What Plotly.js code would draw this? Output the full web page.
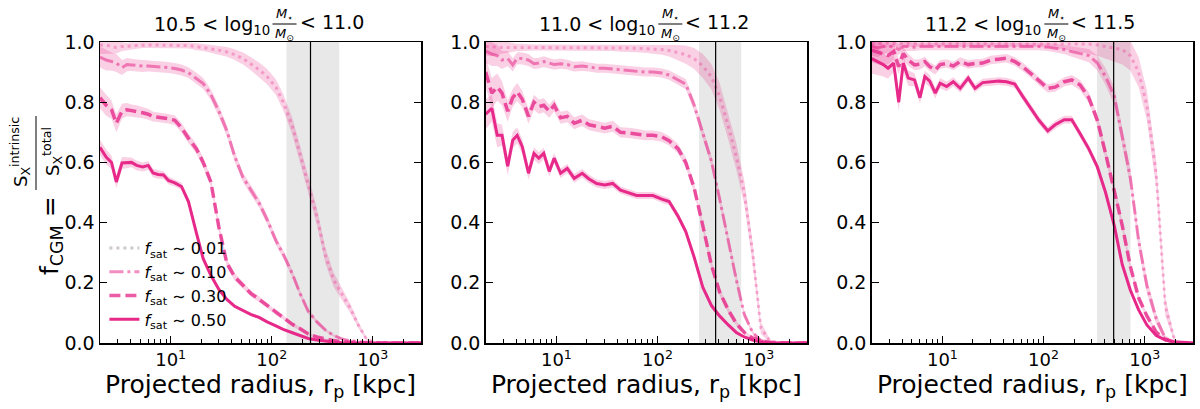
<!DOCTYPE html>
<html>
<head>
<meta charset="utf-8">
<script src="https://cdn.plot.ly/plotly-3.0.1.min.js"></script>
<style>html,body{margin:0;padding:0;background:#fff}</style>
</head>
<body>
<div id="plot" style="width:1200px;height:409px"></div>
<script>
// projected radius grid [kpc], shared by all panels
const radius = [2,2.3,2.6,2.9,3.3,3.7,4.1,4.6,5.3,6, 6.7,7.5,8.5,9.5,11,12.8,15,18,21,25,
  30,36,43,52,62,75,90,110,130,160, 190,230,280,340,410,500,600,720,870,1050, 1300,1600,2000,3000];

// panel 1: 10.5 < log M* < 11.0
const p1_001 = [0.99,0.99,0.985,0.982,0.985,0.985,0.987,0.988,0.99,0.99, 0.99,0.99,0.99,0.99,0.99,0.989,0.988,0.985,0.982,0.978,
  0.973,0.967,0.958,0.945,0.928,0.908,0.885,0.85,0.80,0.72, 0.63,0.53,0.42,0.29,0.21,0.16,0.115,0.06,0.012,0.002, 0,0,0,0];
const p1_010 = [0.95,0.94,0.935,0.93,0.915,0.925,0.924,0.922,0.92,0.92, 0.919,0.918,0.917,0.915,0.912,0.907,0.898,0.88,0.862,0.825,
  0.77,0.705,0.62,0.55,0.51,0.465,0.41,0.34,0.295,0.23, 0.166,0.105,0.07,0.043,0.025,0.013,0.007,0.004,0.002,0, 0,0,0,0];
const p1_030 = [0.815,0.79,0.775,0.73,0.77,0.775,0.772,0.77,0.765,0.76, 0.752,0.75,0.748,0.745,0.74,0.715,0.68,0.645,0.60,0.535,
  0.385,0.265,0.22,0.19,0.165,0.145,0.125,0.10,0.085,0.062, 0.048,0.03,0.02,0.013,0.008,0.004,0.002,0,0,0, 0,0,0,0];
const p1_050 = [0.65,0.618,0.60,0.535,0.598,0.60,0.60,0.59,0.585,0.59, 0.565,0.56,0.558,0.54,0.532,0.52,0.47,0.365,0.28,0.225,
  0.178,0.145,0.122,0.108,0.095,0.085,0.07,0.057,0.045,0.034, 0.025,0.015,0.01,0.006,0.003,0.001,0,0,0,0, 0,0,0,0];
const e1_001 = [0.03,0.03,0.025,0.02,0.015,0.012,0.012,0.01,0.01,0.01, 0.01,0.01,0.01,0.01,0.01,0.01,0.01,0.012,0.012,0.014,
  0.015,0.016,0.018,0.02,0.022,0.024,0.025,0.026,0.027,0.028, 0.028,0.028,0.028,0.026,0.024,0.02,0.015,0.01,0.005,0.002, 0,0,0,0];
const e1_010 = [0.035,0.035,0.03,0.03,0.025,0.022,0.02,0.02,0.02,0.018, 0.018,0.018,0.018,0.018,0.018,0.018,0.018,0.018,0.018,0.018,
  0.018,0.018,0.018,0.016,0.016,0.015,0.015,0.014,0.013,0.012, 0.01,0.008,0.006,0.005,0.004,0.003,0.002,0.001,0.001,0, 0,0,0,0];
const e1_030 = [0.035,0.035,0.03,0.03,0.025,0.022,0.02,0.02,0.018,0.018, 0.016,0.016,0.016,0.016,0.016,0.016,0.016,0.016,0.016,0.015,
  0.014,0.013,0.012,0.011,0.01,0.01,0.009,0.008,0.007,0.006, 0.005,0.004,0.003,0.002,0.002,0.001,0.001,0,0,0, 0,0,0,0];
const e1_050 = [0.025,0.025,0.022,0.02,0.02,0.018,0.016,0.016,0.015,0.015, 0.014,0.014,0.013,0.013,0.012,0.012,0.012,0.011,0.01,0.009,
  0.008,0.007,0.006,0.006,0.005,0.005,0.004,0.004,0.003,0.003, 0.002,0.002,0.001,0.001,0.001,0,0,0,0,0, 0,0,0,0];

// panel 2: 11.0 < log M* < 11.2
const p2_001 = [0.985,0.983,0.982,0.982,0.982,0.982,0.982,0.982,0.982,0.982, 0.982,0.982,0.982,0.982,0.982,0.981,0.981,0.98,0.98,0.98,
  0.98,0.98,0.98,0.98,0.979,0.978,0.977,0.975,0.972,0.965, 0.958,0.945,0.92,0.885,0.82,0.72,0.62,0.50,0.30,0.05, 0.005,0,0,0];
const p2_010 = [0.97,0.96,0.955,0.94,0.945,0.924,0.946,0.945,0.94,0.928, 0.93,0.935,0.93,0.925,0.928,0.925,0.918,0.92,0.917,0.913,
  0.913,0.91,0.907,0.905,0.902,0.9,0.9,0.897,0.89,0.875, 0.86,0.79,0.70,0.605,0.48,0.34,0.21,0.095,0.035,0.008, 0.002,0,0,0];
const p2_030 = [0.9,0.83,0.85,0.83,0.77,0.815,0.834,0.81,0.753,0.80, 0.785,0.79,0.77,0.79,0.748,0.753,0.73,0.74,0.725,0.72,
  0.714,0.72,0.70,0.698,0.695,0.69,0.69,0.685,0.672,0.645, 0.60,0.515,0.39,0.26,0.17,0.11,0.065,0.035,0.017,0.008, 0.002,0,0,0];
const p2_050 = [0.76,0.78,0.69,0.69,0.587,0.674,0.69,0.652,0.564,0.63, 0.614,0.63,0.57,0.614,0.564,0.58,0.547,0.564,0.545,0.53,
  0.525,0.53,0.508,0.50,0.49,0.49,0.49,0.478,0.47,0.42, 0.37,0.285,0.185,0.125,0.09,0.06,0.035,0.02,0.01,0.003, 0,0,0,0];
const e2_001 = [0.03,0.03,0.025,0.02,0.018,0.015,0.012,0.012,0.01,0.01, 0.01,0.01,0.01,0.01,0.01,0.01,0.01,0.01,0.01,0.01,
  0.01,0.01,0.012,0.012,0.013,0.014,0.015,0.017,0.02,0.025, 0.03,0.035,0.04,0.042,0.045,0.045,0.045,0.04,0.035,0.02, 0.005,0,0,0];
const e2_010 = [0.04,0.04,0.035,0.03,0.025,0.022,0.02,0.02,0.02,0.018, 0.018,0.018,0.018,0.017,0.017,0.016,0.016,0.016,0.015,0.015,
  0.015,0.015,0.015,0.015,0.015,0.015,0.015,0.015,0.015,0.016, 0.017,0.018,0.018,0.018,0.018,0.016,0.013,0.01,0.006,0.003, 0.001,0,0,0];
const e2_030 = [0.05,0.05,0.045,0.04,0.035,0.03,0.03,0.028,0.025,0.025, 0.024,0.023,0.022,0.021,0.02,0.02,0.02,0.019,0.018,0.018,
  0.018,0.018,0.017,0.017,0.017,0.016,0.016,0.016,0.016,0.016, 0.016,0.016,0.015,0.014,0.012,0.01,0.008,0.006,0.004,0.002, 0,0,0,0];
const e2_050 = [0.05,0.045,0.04,0.035,0.03,0.028,0.026,0.024,0.022,0.02, 0.02,0.019,0.018,0.017,0.016,0.015,0.015,0.014,0.014,0.013,
  0.013,0.013,0.012,0.012,0.012,0.012,0.012,0.012,0.012,0.012, 0.012,0.012,0.011,0.01,0.008,0.006,0.005,0.004,0.003,0.002, 0.001,0,0,0];

// panel 3: 11.2 < log M* < 11.5
const p3_001 = [0.995,0.995,0.995,0.995,0.995,0.995,0.995,0.995,0.995,0.995, 0.995,0.995,0.995,0.995,0.995,0.995,0.995,0.995,0.995,0.995,
  0.995,0.995,0.995,0.995,0.995,0.995,0.995,0.995,0.995,0.995, 0.995,0.995,0.993,0.99,0.985,0.98,0.975,0.955,0.90,0.79, 0.56,0.12,0.003,0];
const p3_010 = [0.985,0.98,0.985,0.985,0.985,0.975,0.985,0.985,0.983,0.985, 0.985,0.985,0.985,0.986,0.986,0.986,0.986,0.986,0.986,0.986,
  0.986,0.986,0.986,0.986,0.985,0.985,0.985,0.983,0.98,0.975, 0.968,0.962,0.955,0.93,0.885,0.82,0.69,0.55,0.34,0.19, 0.08,0.015,0.002,0];
const p3_030 = [0.973,0.965,0.96,0.955,0.968,0.918,0.962,0.94,0.924,0.926, 0.935,0.918,0.907,0.925,0.929,0.92,0.935,0.925,0.929,0.93,
  0.94,0.943,0.946,0.935,0.918,0.895,0.87,0.846,0.85,0.868, 0.874,0.857,0.815,0.74,0.63,0.51,0.39,0.255,0.15,0.09, 0.036,0.012,0.002,0];
const p3_050 = [0.945,0.935,0.925,0.913,0.93,0.80,0.93,0.88,0.874,0.815, 0.885,0.87,0.83,0.863,0.852,0.868,0.846,0.88,0.846,0.865,
  0.868,0.87,0.868,0.86,0.82,0.78,0.74,0.705,0.725,0.742, 0.742,0.695,0.645,0.585,0.50,0.39,0.26,0.176,0.11,0.06, 0.025,0.01,0.003,0];
const e3_001 = [0.015,0.015,0.015,0.012,0.012,0.01,0.01,0.01,0.01,0.01, 0.01,0.01,0.01,0.01,0.01,0.01,0.01,0.01,0.01,0.01,
  0.01,0.01,0.01,0.01,0.01,0.01,0.012,0.014,0.016,0.02, 0.024,0.028,0.032,0.036,0.04,0.045,0.05,0.05,0.05,0.05, 0.045,0.03,0.005,0];
const e3_010 = [0.03,0.03,0.025,0.02,0.02,0.018,0.015,0.015,0.013,0.012, 0.012,0.012,0.012,0.012,0.012,0.012,0.012,0.012,0.012,0.012,
  0.012,0.012,0.012,0.012,0.012,0.012,0.012,0.013,0.014,0.015, 0.017,0.02,0.022,0.025,0.028,0.03,0.03,0.03,0.028,0.025, 0.018,0.01,0.002,0];
const e3_030 = [0.04,0.04,0.035,0.03,0.028,0.025,0.022,0.02,0.018,0.017, 0.016,0.015,0.015,0.015,0.014,0.014,0.014,0.014,0.014,0.014,
  0.014,0.014,0.014,0.014,0.014,0.014,0.014,0.014,0.015,0.015, 0.016,0.017,0.018,0.018,0.018,0.018,0.016,0.014,0.011,0.008, 0.005,0.002,0,0];
const e3_050 = [0.05,0.045,0.04,0.035,0.03,0.03,0.028,0.025,0.022,0.02, 0.02,0.02,0.018,0.017,0.016,0.015,0.015,0.014,0.014,0.013,
  0.013,0.013,0.013,0.013,0.013,0.013,0.013,0.013,0.013,0.013, 0.013,0.013,0.013,0.013,0.012,0.011,0.01,0.008,0.006,0.004, 0.002,0.001,0,0];

// shaded radius range and the vertical line per panel [kpc]
const bandLo = [140, 257, 338];
const bandHi = [466, 670, 722];
const rLine = [242, 375, 493];

const massLo = ['10.5', '11.0', '11.2'];
const massHi = ['11.0', '11.2', '11.5'];
const fsatLabels = ['0.01', '0.10', '0.30', '0.50'];
const xTickVals = [10, 100, 1000];
const xTickText = ['10<sup>1</sup>', '10<sup>2</sup>', '10<sup>3</sup>'];

const panels = [
  {vals: [p1_001, p1_010, p1_030, p1_050], errs: [e1_001, e1_010, e1_030, e1_050]},
  {vals: [p2_001, p2_010, p2_030, p2_050], errs: [e2_001, e2_010, e2_030, e2_050]},
  {vals: [p3_001, p3_010, p3_030, p3_050], errs: [e3_001, e3_010, e3_030, e3_050]}
];

const lineColors = ['rgba(231,41,138,0.32)', 'rgba(231,41,138,0.55)', 'rgba(231,41,138,0.8)', 'rgb(231,41,138)'];
const legendColors = ['#cfc7cb', '#f28dbf', '#eb5ea5', '#e7298a'];
const dashes = ['3px,4px', '14px,4px,3px,4px', '11px,5px', 'solid'];
const widths = [3, 3, 3.5, 3];
const bandFill = 'rgba(231,41,138,0.22)';

const W = 1200, H = 409;
const boxL = [100, 485.7, 871.7], boxR = [421, 807, 1193];
const boxT = 42, boxB = 343;
const font = 'DejaVu Sans';

let traces = [];
let annotations = [];
let shapes = [];
let layout = {
  width: W, height: H,
  margin: {l: 0, r: 0, t: 0, b: 0},
  paper_bgcolor: 'white', plot_bgcolor: 'white',
  font: {family: font, color: '#000'},
  showlegend: true,
  legend: {x: 0.087, y: 1 - 231 / H, xanchor: 'left', yanchor: 'top', bgcolor: 'rgba(0,0,0,0)',
    traceorder: 'normal', tracegroupgap: 4,
    font: {size: 16, family: font, color: '#000'}, itemwidth: 30}
};

let minorTicks = [];
[1, 10, 100, 1000].forEach(d => { for (let k = 2; k <= 9; k++) minorTicks.push(k * d); });

panels.forEach((p, i) => {
  const xa = i === 0 ? 'x' : 'x' + (i + 1);
  const ya = i === 0 ? 'y' : 'y' + (i + 1);

  // grey shaded region
  traces.push({x: [bandLo[i], bandHi[i], bandHi[i], bandLo[i], bandLo[i]], y: [0, 0, 1, 1, 0],
    xaxis: xa, yaxis: ya, mode: 'lines', fill: 'toself', fillcolor: 'rgba(205,205,205,0.45)',
    line: {width: 0}, showlegend: false, hoverinfo: 'skip'});

  p.vals.forEach((v, j) => {
    const e = p.errs[j];
    traces.push({x: radius, y: v.map((d, k) => d - e[k]), xaxis: xa, yaxis: ya, mode: 'lines',
      line: {width: 0}, showlegend: false, hoverinfo: 'skip'});
    traces.push({x: radius, y: v.map((d, k) => d + e[k]), xaxis: xa, yaxis: ya, mode: 'lines',
      fill: 'tonexty', fillcolor: bandFill, line: {width: 0}, showlegend: false, hoverinfo: 'skip'});
    traces.push({x: radius, y: v, xaxis: xa, yaxis: ya, mode: 'lines',
      line: {color: lineColors[j], width: widths[j], dash: dashes[j]}, showlegend: false});
  });

  traces.push({x: [rLine[i], rLine[i]], y: [0, 1], xaxis: xa, yaxis: ya, mode: 'lines',
    line: {color: '#000', width: 1.2}, showlegend: false, hoverinfo: 'skip'});

  layout['xaxis' + (i === 0 ? '' : i + 1)] = {
    domain: [boxL[i] / W, boxR[i] / W], anchor: ya, type: 'log',
    range: [Math.log10(2), Math.log10(3000)],
    tickmode: 'array', tickvals: xTickVals, ticktext: xTickText,
    ticks: 'inside', ticklen: 7, tickwidth: 1, tickcolor: '#000',
    minor: {tickmode: 'array', tickvals: minorTicks, ticks: 'inside', ticklen: 4, tickwidth: 1, tickcolor: '#000'},
    showline: true, linecolor: '#000', linewidth: 1.5, mirror: true,
    showgrid: false, zeroline: false,
    tickfont: {size: 18, family: font, color: '#000'},
    title: {text: 'Projected radius, r<sub>p</sub> [kpc]', font: {size: 25, family: font, color: '#000'}, standoff: 4}
  };
  layout['yaxis' + (i === 0 ? '' : i + 1)] = {
    domain: [1 - boxB / H, 1 - boxT / H], anchor: xa, range: [0, 1],
    tickmode: 'array', tickvals: [0, 0.2, 0.4, 0.6, 0.8, 1.0], tickformat: '.1f',
    ticks: 'inside', ticklen: 7, tickwidth: 1, tickcolor: '#000',
    showline: true, linecolor: '#000', linewidth: 1.5, mirror: 'ticks',
    showgrid: false, zeroline: false,
    tickfont: {size: 19, family: font, color: '#000'}
  };

  // panel title: lo < log10 (M*/Msun) < hi, fraction built from pieces
  const fx = (boxL[i] + boxR[i]) / 2 + 24;
  annotations.push({xref: 'paper', yref: 'paper', x: (fx - 13) / W, y: 1 - 25 / H, xanchor: 'right', yanchor: 'middle',
    text: massLo[i] + ' < log<sub>10</sub>', showarrow: false, font: {size: 19, family: font}});
  annotations.push({xref: 'paper', yref: 'paper', x: (fx + 13) / W, y: 1 - 22 / H, xanchor: 'left', yanchor: 'middle',
    text: '< ' + massHi[i], showarrow: false, font: {size: 19, family: font}});
  annotations.push({xref: 'paper', yref: 'paper', x: fx / W, y: 1 - 14 / H, xanchor: 'center', yanchor: 'middle',
    text: '<i>M</i><sub>⋆</sub>', showarrow: false, font: {size: 13, family: font}});
  annotations.push({xref: 'paper', yref: 'paper', x: fx / W, y: 1 - 34 / H, xanchor: 'center', yanchor: 'middle',
    text: '<i>M</i><sub>⊙</sub>', showarrow: false, font: {size: 13, family: font}});
  shapes.push({type: 'line', xref: 'paper', yref: 'paper', x0: (fx - 12) / W, x1: (fx + 12) / W,
    y0: 1 - 24 / H, y1: 1 - 24 / H, line: {color: '#000', width: 1}});
});

// legend entries
fsatLabels.forEach((s, j) => {
  traces.push({x: [null], y: [null], xaxis: 'x', yaxis: 'y', mode: 'lines', name: '<i>f</i><sub>sat</sub> ∼ ' + s,
    legendgroup: 'g' + j, line: {color: legendColors[j], width: widths[j], dash: dashes[j]}});
});

// y-axis label: f_CGM = S_X^intrinsic / S_X^total
annotations.push({xref: 'paper', yref: 'paper', x: 33 / W, y: 1 - 236 / H, textangle: -90,
  text: 'f<sub>CGM</sub> =', showarrow: false, font: {size: 25, family: font}});
annotations.push({xref: 'paper', yref: 'paper', x: 34 / W, y: 1 - 152 / H, textangle: -90,
  xanchor: 'right', borderpad: 0,
  text: 'S<sub>X</sub><sup>intrinsic</sup>', showarrow: false, font: {size: 18, family: font}});
annotations.push({xref: 'paper', yref: 'paper', x: 38 / W, y: 1 - 152 / H, textangle: -90,
  xanchor: 'left', borderpad: 0,
  text: 'S<sub>X</sub><sup>total</sup>', showarrow: false, font: {size: 18, family: font}});
shapes.push({type: 'line', xref: 'paper', yref: 'paper', x0: 36 / W, x1: 36 / W, y0: 1 - 116 / H, y1: 1 - 190 / H,
  line: {color: '#000', width: 1}});

layout.annotations = annotations;
layout.shapes = shapes;

Plotly.newPlot('plot', traces, layout, {displayModeBar: false, staticPlot: true});
</script>
</body>
</html>
